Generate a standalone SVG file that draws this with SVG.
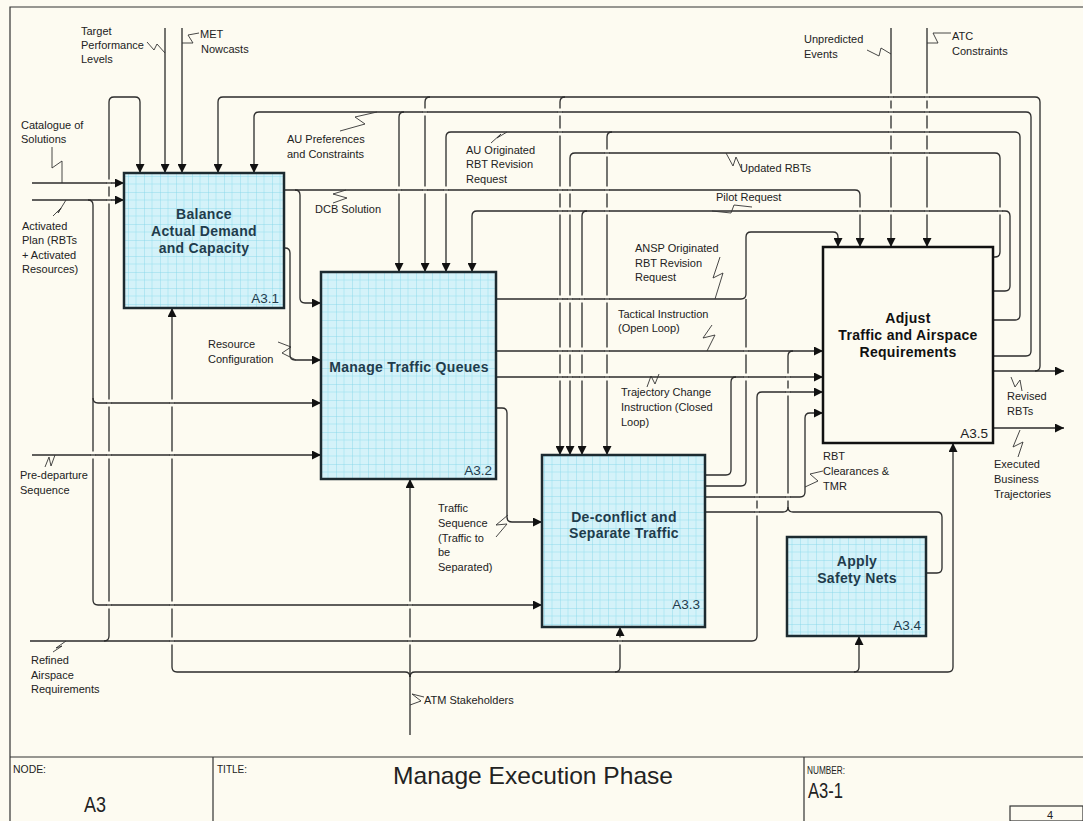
<svg xmlns="http://www.w3.org/2000/svg" xmlns:xlink="http://www.w3.org/1999/xlink" width="1083" height="821" viewBox="0 0 1083 821">
<style>
.c{fill:none;stroke:#2b2b2b;stroke-width:1.3}
.a{marker-end:url(#arr)}
.sq{fill:none;stroke:#333;stroke-width:0.9}
.lbl{font-family:"Liberation Sans",Arial,sans-serif;font-size:11px;fill:#222}
.box{fill:url(#grid);stroke:#1c2a30;stroke-width:2.5}
.bt{font-family:"Liberation Sans",Arial,sans-serif;font-size:14px;font-weight:bold;fill:#1f3c4c;text-anchor:middle;letter-spacing:0.3px}
.num{font-family:"Liberation Sans",Arial,sans-serif;font-size:13.5px;fill:#1f3c4c;text-anchor:end}
.frame{fill:none;stroke:#333;stroke-width:1.2}
.tb{font-family:"Liberation Sans",Arial,sans-serif;fill:#222}
</style>
<defs>
<pattern id="grid" width="16" height="16" patternUnits="userSpaceOnUse">
<rect width="16" height="16" fill="#D4F2F9"/>
<path d="M8,0 V16 M0,8 H16" stroke="#A4E2F1" stroke-width="0.7"/>
<path d="M0,0 V16 M0,0 H16" stroke="#80D4EA" stroke-width="0.8"/>
</pattern>
<marker id="arr" viewBox="0 0 10 10" refX="10" refY="5" markerWidth="10" markerHeight="9" markerUnits="userSpaceOnUse" orient="auto">
<path d="M0,0 L10,5 L0,10 z" fill="#111"/>
</marker>
<g id="gv"><rect x="-2" y="-3.5" width="4" height="7" fill="#FDFBF1"/><path d="M-2.5,0 H2.5" stroke="#2b2b2b" stroke-width="1.3"/></g>
</defs>
<rect width="1083" height="821" fill="#FDFBF1"/>
<g id="frame" class="frame">
<path d="M10,821 V7 H1083"/>
<path d="M10,757 H1083 M213,757 V821 M804,757 V821"/>
<rect x="1010" y="806" width="73" height="15"/>
</g>
<g id="titleblock" class="tb">
<text x="13" y="773" font-size="11" textLength="33" lengthAdjust="spacingAndGlyphs">NODE:</text>
<text x="84" y="812" font-size="22" textLength="22" lengthAdjust="spacingAndGlyphs">A3</text>
<text x="217" y="773" font-size="11" textLength="30" lengthAdjust="spacingAndGlyphs">TITLE:</text>
<text x="393" y="784" font-size="24" textLength="280" lengthAdjust="spacingAndGlyphs">Manage Execution Phase</text>
<text x="807" y="774" font-size="11" textLength="38" lengthAdjust="spacingAndGlyphs">NUMBER:</text>
<text x="808" y="798" font-size="22" textLength="35" lengthAdjust="spacingAndGlyphs">A3-1</text>
<text x="1047" y="819" font-size="11">4</text>
</g>
<g id="connectors" class="c">
<path class="a" d="M32,183 H124"/>
<path class="a" d="M32,200 H124"/>
<path class="a" d="M88,200 Q93,200 93,205 V600 Q93,605 98,605 H542"/>
<path class="a" d="M93,398 Q93,403 98,403 H321"/>
<path class="a" d="M32,455 H321"/>
<path class="a" d="M30,641 H752 Q757,641 757,636 V397 Q757,392 762,392 H823"/>
<path class="a" d="M104,641 Q109,641 109,636 V102 Q109,97 114,97 H135 Q140,97 140,102 V173"/>
<path class="a" d="M165,28 V173"/>
<path class="a" d="M182,28 V173"/>
<path class="a" d="M993,371 H1064"/>
<path class="a" d="M1035,371 Q1040,371 1040,366 V102 Q1040,97 1035,97 H223 Q218,97 218,102 V173"/>
<path class="a" d="M430,97 Q425,97 425,102 V272"/>
<path class="a" d="M565,97 Q560,97 560,102 V455"/>
<path class="a" d="M993,356 H1026 Q1031,356 1031,351 V117 Q1031,112 1026,112 H259 Q254,112 254,117 V173"/>
<path class="a" d="M404,112 Q399,112 399,117 V272"/>
<path class="a" d="M993,320 H1015 Q1020,320 1020,315 V137 Q1020,132 1015,132 H451 Q446,132 446,137 V272"/>
<path class="a" d="M612,132 Q607,132 607,137 V455"/>
<path class="a" d="M993,257 H995 Q1000,257 1000,252 V158 Q1000,153 995,153 H575 Q570,153 570,158 V455"/>
<path class="a" d="M993,291 H1005 Q1010,291 1010,286 V216 Q1010,211 1005,211 H477 Q472,211 472,216 V272"/>
<path class="a" d="M587,211 Q582,211 582,216 V455"/>
<path class="a" d="M284,190 H855 Q860,190 860,195 V247"/>
<path class="a" d="M295,190 Q300,190 300,195 V298 Q300,303 305,303 H321"/>
<path class="a" d="M284,248 H285 Q290,248 290,253 V355 Q290,360 295,360 H321"/>
<path class="a" d="M496,299 H741 Q746,299 746,294 V237 Q746,232 751,232 H833 Q838,232 838,237 V247"/>
<path d="M705,486 H741 Q746,486 746,481 V299"/>
<path class="a" d="M496,351 H823"/>
<path d="M705,512 H783 Q788,512 788,507 V356 Q788,351 793,351"/>
<path d="M926,573 H937 Q942,573 942,568 V517 Q942,512 937,512 H793 Q788,512 788,507"/>
<path class="a" d="M496,377 H823"/>
<path d="M705,475 H726 Q731,475 731,470 V382 Q731,377 736,377"/>
<path class="a" d="M705,497 H800 Q805,497 805,492 V418 Q805,413 810,413 H823"/>
<path class="a" d="M496,408 H502 Q507,408 507,413 V517 Q507,522 512,522 H542"/>
<path class="a" d="M410,735 V479"/>
<path class="a" d="M410,677 Q410,672 405,672 H177 Q172,672 172,667 V308"/>
<path class="a" d="M410,677 Q410,672 415,672 H948 Q953,672 953,667 V443"/>
<path class="a" d="M615,672 Q620,672 620,667 V627"/>
<path class="a" d="M854,672 Q859,672 859,667 V636"/>
<path class="a" d="M891,28 V247"/>
<path class="a" d="M927,28 V247"/>
<path class="a" d="M993,428 H1064"/>
</g>
<g id="crossings">
<use href="#gv" x="109" y="183"/><use href="#gv" x="109" y="200"/><use href="#gv" x="109" y="403"/><use href="#gv" x="109" y="455"/><use href="#gv" x="109" y="605"/>
<use href="#gv" x="93" y="455"/>
<use href="#gv" x="172" y="403"/><use href="#gv" x="172" y="455"/><use href="#gv" x="172" y="605"/><use href="#gv" x="172" y="641"/>
<use href="#gv" x="410" y="605"/><use href="#gv" x="410" y="641"/><use href="#gv" x="620" y="641"/>
<use href="#gv" x="757" y="512"/><use href="#gv" x="757" y="497"/>
<use href="#gv" x="788" y="497"/><use href="#gv" x="788" y="392"/><use href="#gv" x="788" y="377"/>
<use href="#gv" x="746" y="377"/><use href="#gv" x="746" y="351"/>
<use href="#gv" x="891" y="97"/><use href="#gv" x="891" y="112"/><use href="#gv" x="891" y="132"/><use href="#gv" x="891" y="153"/><use href="#gv" x="891" y="211"/>
<use href="#gv" x="927" y="97"/><use href="#gv" x="927" y="112"/><use href="#gv" x="927" y="132"/><use href="#gv" x="927" y="153"/><use href="#gv" x="927" y="211"/>
<use href="#gv" x="860" y="211"/><use href="#gv" x="1000" y="211"/>
<use href="#gv" x="399" y="190"/><use href="#gv" x="425" y="112"/><use href="#gv" x="425" y="190"/><use href="#gv" x="446" y="190"/>
<use href="#gv" x="560" y="112"/><use href="#gv" x="560" y="132"/><use href="#gv" x="560" y="190"/><use href="#gv" x="560" y="211"/><use href="#gv" x="560" y="299"/><use href="#gv" x="560" y="351"/><use href="#gv" x="560" y="377"/>
<use href="#gv" x="570" y="190"/><use href="#gv" x="570" y="211"/><use href="#gv" x="570" y="299"/><use href="#gv" x="570" y="351"/><use href="#gv" x="570" y="377"/>
<use href="#gv" x="582" y="299"/><use href="#gv" x="582" y="351"/><use href="#gv" x="582" y="377"/>
<use href="#gv" x="607" y="153"/><use href="#gv" x="607" y="190"/><use href="#gv" x="607" y="211"/><use href="#gv" x="607" y="299"/><use href="#gv" x="607" y="351"/><use href="#gv" x="607" y="377"/>
</g>
<g id="squiggles" class="sq">
<polyline points="147,42 154,50 157,44 165,53"/>
<polyline points="182,43 193,43 188,35 199,33"/>
<polyline points="52,147 52,168 62,161 62,183"/>
<polyline points="53,216 61,208 58,213 66,200"/>
<polyline points="377,112 355,117 365,124 340,131"/>
<polyline points="346,190 333,194 347,198 333,203"/>
<polyline points="507,132 497,138 501,134 491,143"/>
<polyline points="726,153 733,166 736,157 741,168"/>
<polyline points="752,207 734,205 731,213 712,211"/>
<polyline points="867,50 879,56 881,48 891,54"/>
<polyline points="927,43 938,43 933,33 951,33"/>
<polyline points="720,257 713,278 723,273 715,299"/>
<polyline points="712,325 703,338 715,335 707,351"/>
<polyline points="647,387 651,376 655,384 659,374"/>
<polyline points="278,342 291,347 282,353 296,360"/>
<polyline points="45,467 49,457 51,466 55,455"/>
<polyline points="53,652 62,646 56,648 66,641"/>
<polyline points="424,697 412,694 421,701 410,705"/>
<polyline points="508,515 496,525 507,524 496,537"/>
<polyline points="823,471 810,474 818,481 805,487"/>
<polyline points="1011,377 1015,387 1020,380 1022,391"/>
<polyline points="1020,430 1013,447 1023,442 1018,457"/>
</g>
<g id="labels" class="lbl">
<text x="81" y="35">Target</text><text x="81" y="49">Performance</text><text x="81" y="63">Levels</text>
<text x="200" y="38">MET</text><text x="201" y="53">Nowcasts</text>
<text x="21" y="129">Catalogue of</text><text x="21" y="143">Solutions</text>
<text x="22" y="230">Activated</text><text x="22" y="244">Plan (RBTs</text><text x="22" y="259">+ Activated</text><text x="22" y="273">Resources)</text>
<text x="287" y="143">AU Preferences</text><text x="287" y="158">and Constraints</text>
<text x="466" y="154">AU Originated</text><text x="466" y="168">RBT Revision</text><text x="466" y="183">Request</text>
<text x="315" y="213">DCB Solution</text>
<text x="740" y="172">Updated RBTs</text>
<text x="716" y="201">Pilot Request</text>
<text x="804" y="43">Unpredicted</text><text x="804" y="58">Events</text>
<text x="952" y="40">ATC</text><text x="952" y="55">Constraints</text>
<text x="635" y="252">ANSP Originated</text><text x="635" y="267">RBT Revision</text><text x="635" y="281">Request</text>
<text x="618" y="318">Tactical Instruction</text><text x="618" y="332">(Open Loop)</text>
<text x="621" y="396">Trajectory Change</text><text x="621" y="411">Instruction (Closed</text><text x="621" y="426">Loop)</text>
<text x="208" y="348">Resource</text><text x="208" y="363">Configuration</text>
<text x="20" y="479">Pre-departure</text><text x="20" y="494">Sequence</text>
<text x="31" y="664">Refined</text><text x="31" y="679">Airspace</text><text x="31" y="693">Requirements</text>
<text x="424" y="704">ATM Stakeholders</text>
<text x="438" y="512">Traffic</text><text x="438" y="527">Sequence</text><text x="438" y="542">(Traffic to</text><text x="438" y="556">be</text><text x="438" y="571">Separated)</text>
<text x="823" y="460">RBT</text><text x="823" y="475">Clearances &amp;</text><text x="823" y="490">TMR</text>
<text x="1007" y="400">Revised</text><text x="1007" y="415">RBTs</text>
<text x="994" y="468">Executed</text><text x="994" y="483">Business</text><text x="994" y="498">Trajectories</text>
</g>
<g id="A3.1">
<rect class="box" x="124" y="173" width="160" height="135"/>
<text class="bt" x="204" y="219">Balance</text><text class="bt" x="204" y="236">Actual Demand</text><text class="bt" x="204" y="253">and Capacity</text>
<text class="num" x="279" y="303">A3.1</text>
</g>
<g id="A3.2">
<rect class="box" x="321" y="272" width="175" height="207"/>
<text class="bt" x="409" y="372">Manage Traffic Queues</text>
<text class="num" x="492" y="475">A3.2</text>
</g>
<g id="A3.3">
<rect class="box" x="542" y="455" width="163" height="172"/>
<text class="bt" x="624" y="522">De-conflict and</text><text class="bt" x="624" y="538">Separate Traffic</text>
<text class="num" x="700" y="609">A3.3</text>
</g>
<g id="A3.4">
<rect class="box" x="787" y="537" width="139" height="99"/>
<text class="bt" x="857" y="566">Apply</text><text class="bt" x="857" y="583">Safety Nets</text>
<text class="num" x="921" y="630">A3.4</text>
</g>
<g id="A3.5">
<rect x="823" y="247" width="170" height="196" fill="none" stroke="#111" stroke-width="2.5"/>
<text class="bt" x="908" y="323" style="fill:#111">Adjust</text><text class="bt" x="908" y="340" style="fill:#111">Traffic and Airspace</text><text class="bt" x="908" y="357" style="fill:#111">Requirements</text>
<text class="num" x="988" y="438" style="fill:#222">A3.5</text>
</g>
</svg>
